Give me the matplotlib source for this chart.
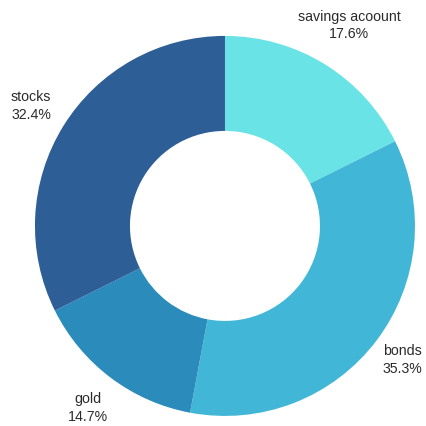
import matplotlib.pyplot as plt
import numpy as np

labels = ['savings acoount', 'bonds', 'gold', 'stocks']
values = [6, 12, 5, 11]
colors = ['#6ae3e6', '#42b6d6', '#2b8bbb', '#2e5e96']

plt.rcParams['font.family'] = ['Liberation Sans', 'DejaVu Sans']

fig = plt.figure(figsize=(4.26, 4.26), dpi=100)
ax = fig.add_axes([0, 0, 1, 1])

wedges, _ = ax.pie(values, colors=colors, startangle=90, counterclock=False,
                   radius=1.0, wedgeprops=dict(width=0.5, linewidth=0))

# label distance per slice (bonds sits close to the right edge)
dist = {'savings acoount': 1.24, 'bonds': 1.17, 'gold': 1.2, 'stocks': 1.2}

total = float(sum(values))
for w, lab, v in zip(wedges, labels, values):
    mid = np.deg2rad((w.theta1 + w.theta2) / 2.0)
    r = dist[lab]
    x, y = r * np.cos(mid), r * np.sin(mid)
    ax.text(x, y, '%s\n%.1f%%' % (lab, 100 * v / total), ha='center', va='center',
            fontsize=10.2, color='#2a2a2a', linespacing=1.3)

ax.set_xlim(-1.184, 1.058)
ax.set_ylim(-1.053, 1.189)
ax.set_aspect('equal')
ax.axis('off')

fig.savefig('out.png', dpi=100)
